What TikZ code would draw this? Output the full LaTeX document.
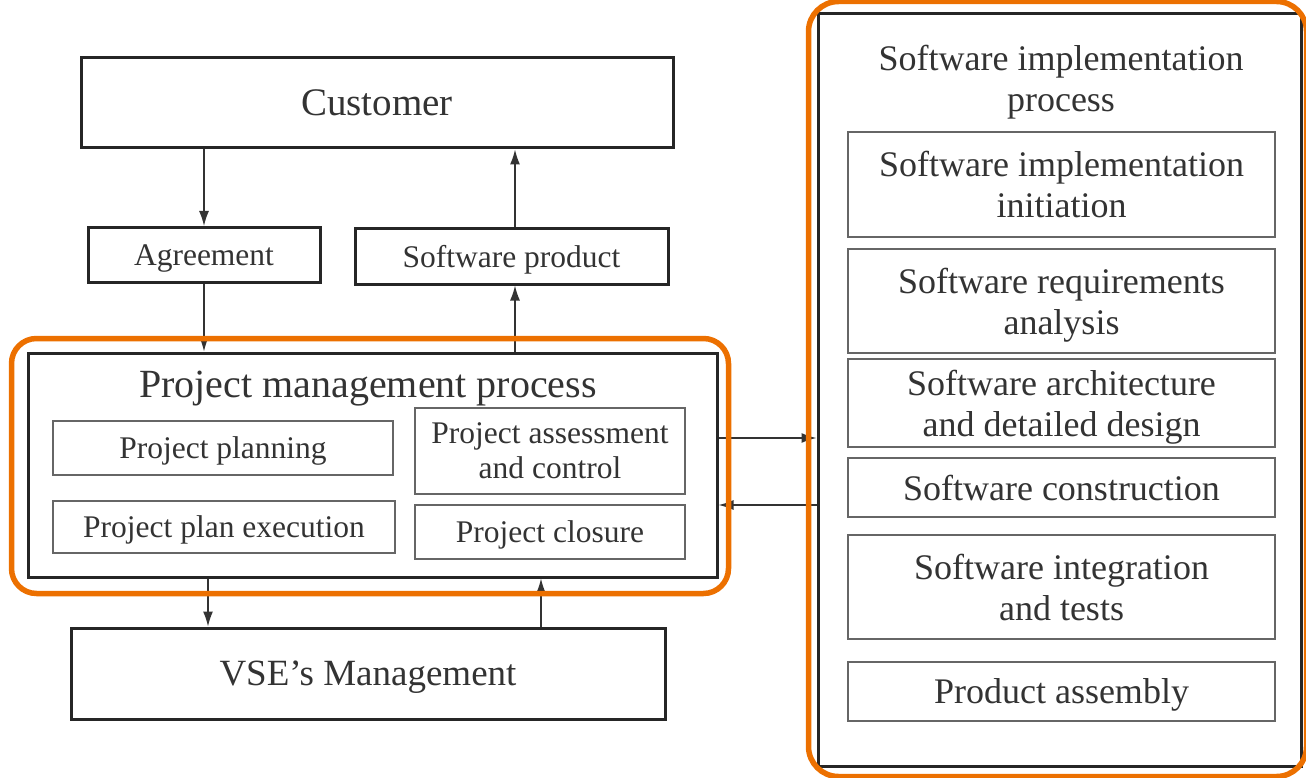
\documentclass[tikz,border=0pt]{standalone}
\usepackage{fontspec}
\setmainfont{Liberation Serif}
\usepackage{xcolor}
\usetikzlibrary{arrows.meta, positioning}

\definecolor{frameorange}{RGB}{236,112,0}

\begin{document}
\begin{tikzpicture}[
		x=1pt, y=-1pt,
		% Define styles
		main box/.style={
			rectangle,
			draw=black!85,
			line width=3pt,
			inner sep=0pt,
			text depth=0pt,
			text=black!80,
			align=center
		},
		sub box/.style={
			rectangle,
			draw=black!60,
			line width=1.8pt,
			inner sep=0pt,
			text depth=0pt,
			text=black!80,
			align=center,
			font=\fontsize{31.5}{35}\selectfont
		},
		impl item/.style={
			sub box,
			minimum width=427pt,
			font=\fontsize{36}{41}\selectfont
		},
		big text/.style={font=\fontsize{39}{44}\selectfont},
		% Define arrow style
		arrow/.style={-{Latex[length=15pt,width=10pt]}, line width=1.4pt, draw=black!80},
		highlight/.style={draw=frameorange, line width=5.5pt, rounded corners=25pt}
		]
		\useasboundingbox (0,0) rectangle (1306,778);
		
		% ----- Customer side -----
		\node[main box, big text, minimum width=592pt, minimum height=90pt] (customer) at (377,103) {Customer};
		\node[main box, font=\fontsize{31.5}{35}\selectfont, minimum width=232pt, minimum height=55pt] (agreement) at (204,255) {Agreement};
		\node[main box, font=\fontsize{31.5}{35}\selectfont, minimum width=313pt, minimum height=56pt] (product) at (511.5,256) {Software product};
		
		% ----- Project management process -----
		\node[main box, minimum width=689pt, minimum height=224pt] (pm) at (372.5,465) {};
		\node[text=black!80, font=\fontsize{40}{44}\selectfont, inner sep=0pt, text depth=0pt] (pm-title) at (368,384) {Project management process};
		\node[sub box, minimum width=340pt, minimum height=54pt] (planning) at (223,448) {Project planning};
		\node[sub box, minimum width=270pt, minimum height=86pt] (assessment) at (550,451) {Project assessment\\and control};
		\node[sub box, minimum width=342pt, minimum height=52pt] (execution) at (224,527) {Project plan execution};
		\node[sub box, minimum width=270pt, minimum height=54pt] (closure) at (550,532) {Project closure};
		
		% ----- VSE's Management -----
		\node[main box, font=\fontsize{37}{42}\selectfont, minimum width=594pt, minimum height=91pt] (vse) at (368,673.5) {VSE’s Management};
		
		% ----- Software implementation process -----
		\node[main box, minimum width=483pt, minimum height=752pt] (impl) at (1059.5,390) {};
		\node[text=black!80, align=center, inner sep=0pt, text depth=0pt, font=\fontsize{36}{41}\selectfont] (impl-title) at (1061,78) {Software implementation\\process};
		\node[impl item, minimum height=105pt] (initiation) at (1061.5,184.5) {Software implementation\\initiation};
		\node[impl item, minimum height=104pt] (requirements) at (1061.5,301) {Software requirements\\analysis};
		\node[impl item, minimum height=88pt] (architecture) at (1061.5,403) {Software architecture\\and detailed design};
		\node[impl item, minimum height=59pt] (construction) at (1061.5,487.5) {Software construction};
		\node[impl item, minimum height=104pt] (integration) at (1061.5,587) {Software integration\\and tests};
		\node[impl item, minimum height=59pt] (assembly) at (1061.5,691.5) {Product assembly};
		
		% ----- Arrows to connect the nodes -----
		\draw[arrow] (agreement.north |- customer.south) -- (agreement.north);
		\draw[arrow] (agreement.south) -- (agreement.south |- pm.north);
		\draw[arrow] ([xshift=3.5pt]product.south |- pm.north) -- ([xshift=3.5pt]product.south);
		\draw[arrow] ([xshift=3.5pt]product.north) -- ([xshift=3.5pt]product.north |- customer.south);
		
		\draw[arrow] ([xshift=-160pt]vse.north |- pm.south) -- ([xshift=-160pt]vse.north);
		\draw[arrow] ([xshift=173pt]vse.north) -- ([xshift=173pt]vse.north |- pm.south);
		
		\draw[arrow] ([yshift=27pt]pm.east) -- ([yshift=27pt]pm.east -| impl.west);
		\draw[arrow] ([yshift=-40pt]pm.east -| impl.west) -- ([yshift=-40pt]pm.east);
		
		% ----- Highlight frames -----
		\draw[highlight] ([shift={(-15pt,13pt)}]pm.north west) rectangle ([shift={(10pt,-15pt)}]pm.south east);
		\draw[highlight, rounded corners=30pt] ([shift={(-8pt,11pt)}]impl.north west) rectangle ([shift={(4pt,-9pt)}]impl.south east);
		
	\end{tikzpicture}
\end{document}
